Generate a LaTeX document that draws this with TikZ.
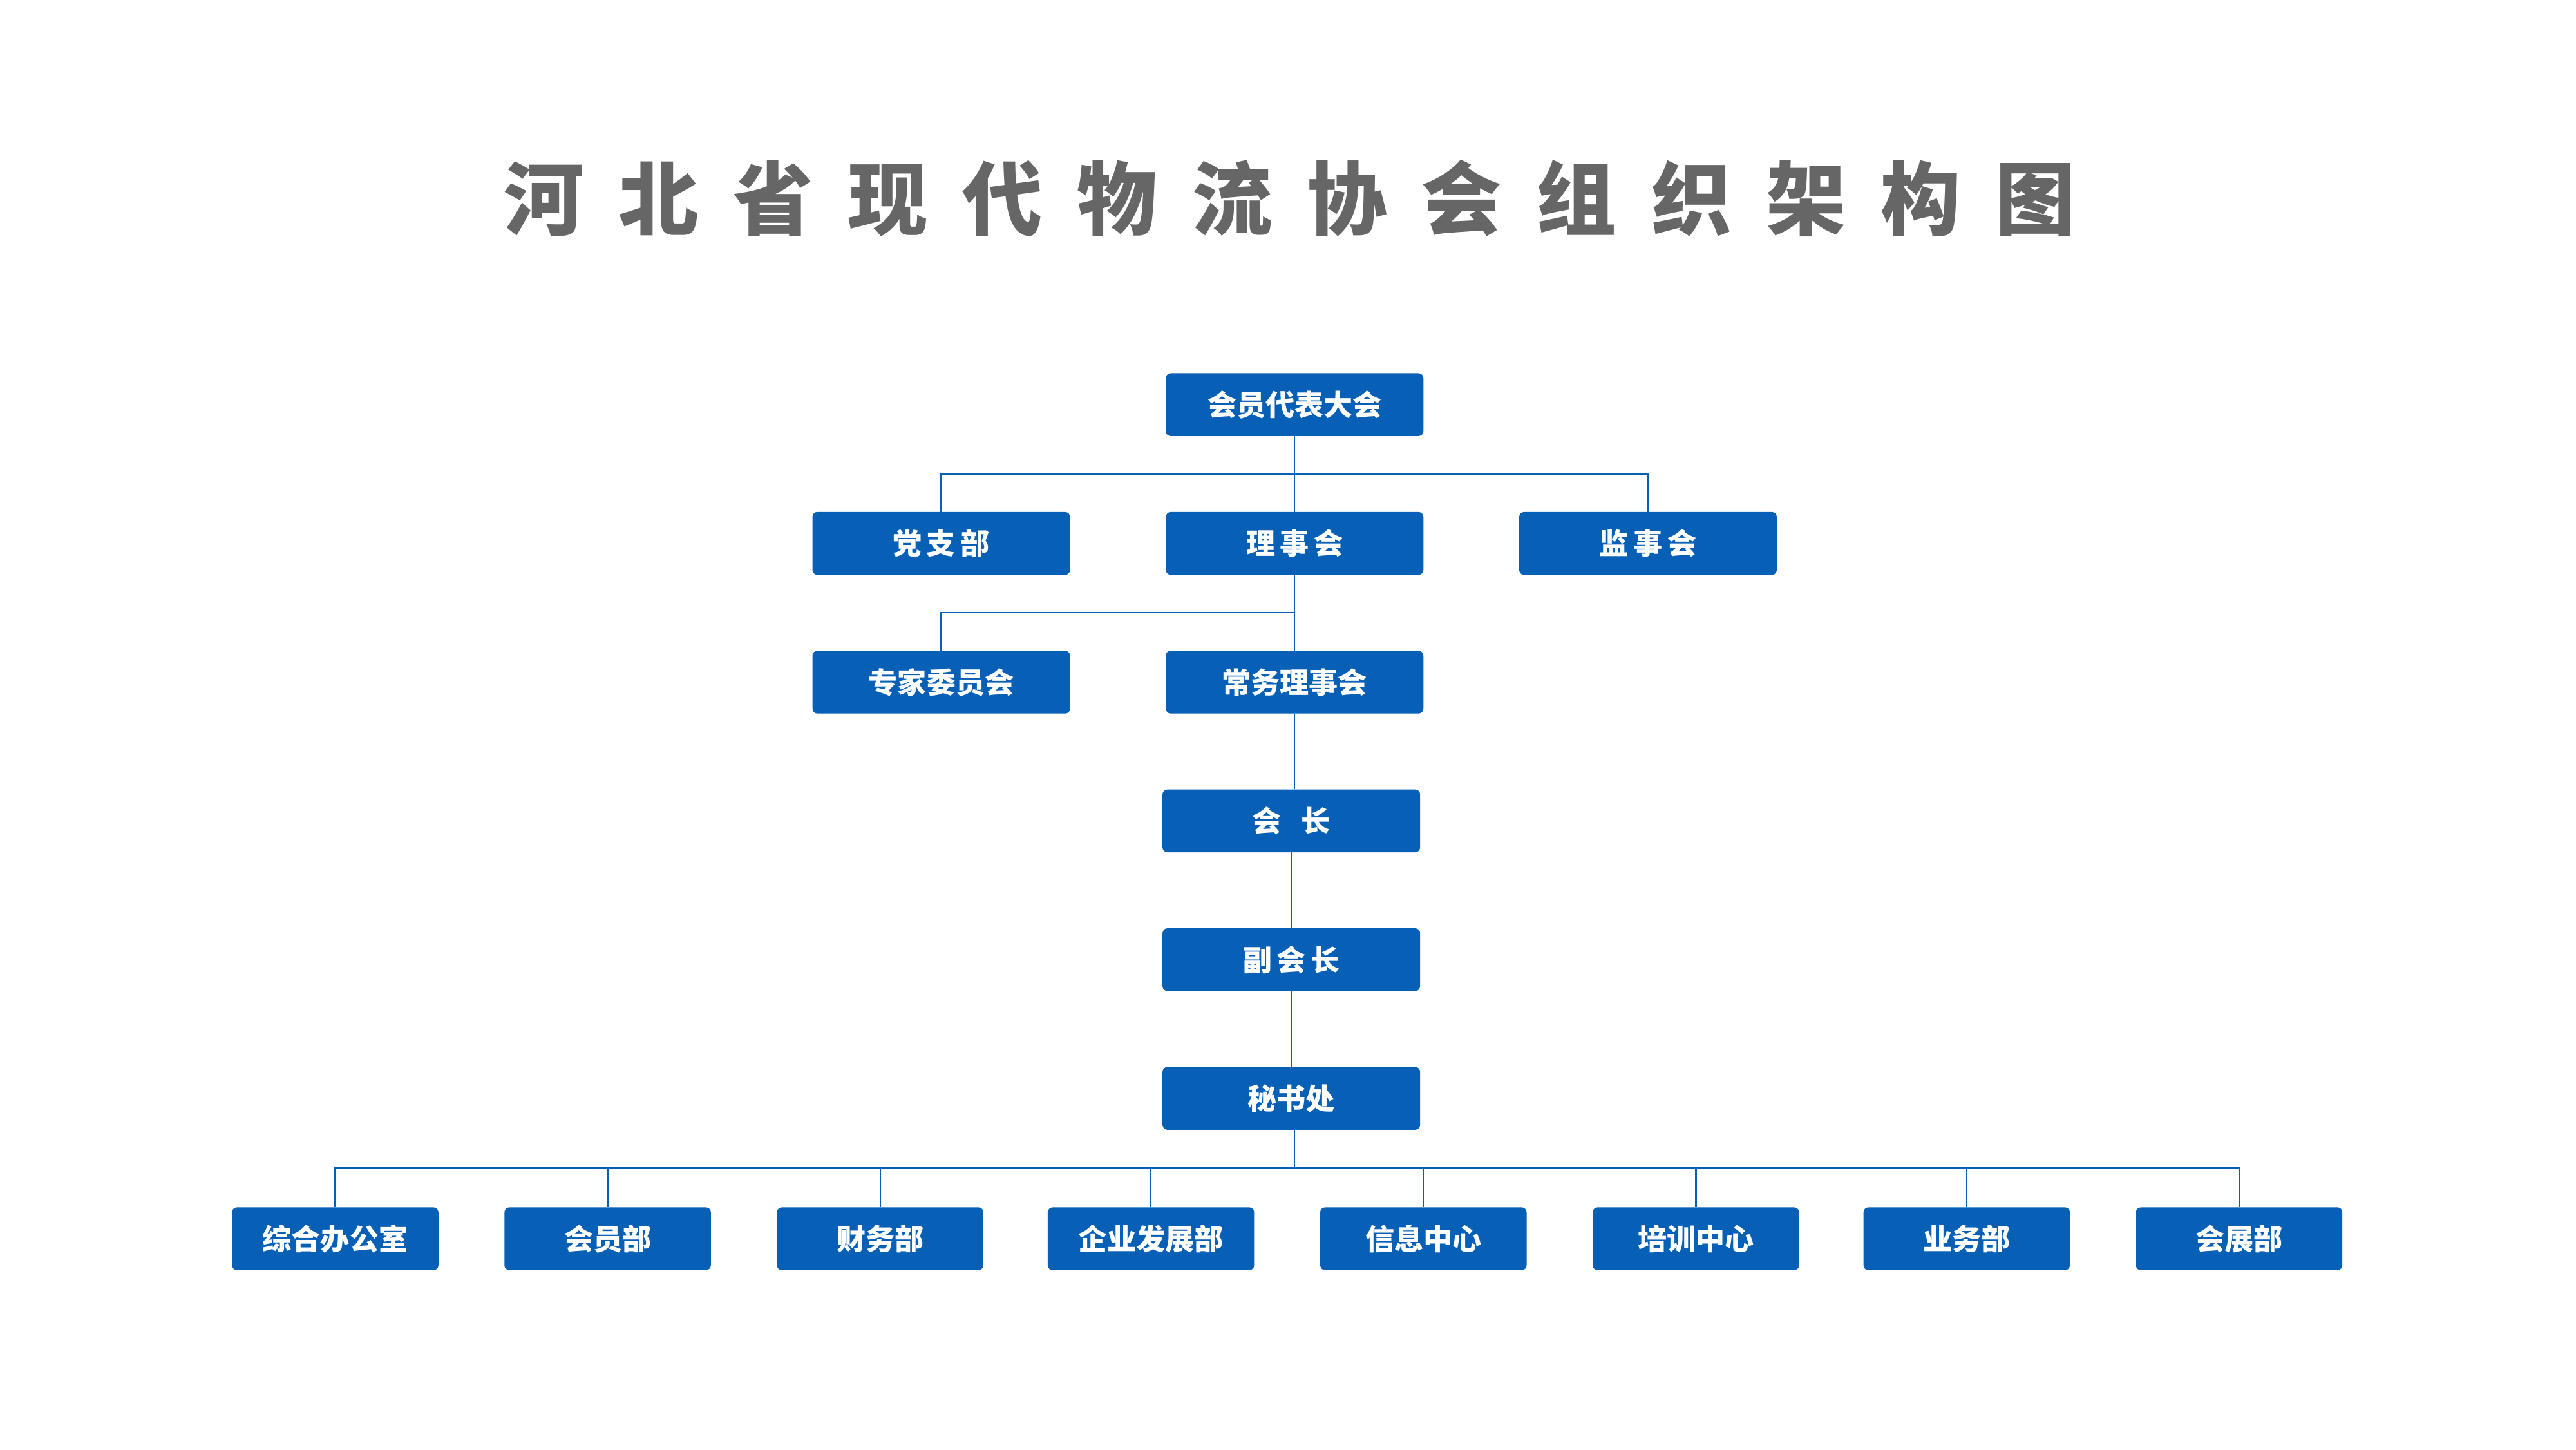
\documentclass[tikz,border=0pt]{standalone}
\usepackage{fontspec}
\newfontfamily\cjk{Noto Sans CJK SC}
\usetikzlibrary{positioning}
\definecolor{orgblue}{HTML}{0860B6}
\definecolor{titlegray}{HTML}{666666}
\newcommand{\tgap}{\hspace{21mm}}
\begin{document}
\begin{tikzpicture}[x=1mm,y=-1mm]
  \tikzset{unit/.style={fill=orgblue, rounded corners=3mm, minimum width=156mm, minimum height=38mm, inner sep=0pt, text=white, font=\cjk\bfseries\fontsize{50}{50}\selectfont},
    dept/.style={unit, minimum width=125mm},
    link/.style={draw=orgblue, line width=0.9mm}}
  \useasboundingbox (0,0) rectangle (1560,877.5);

  \node[text=titlegray, font=\cjk\bfseries\fontsize{138}{138}\selectfont] (title) at (781,120) {河\tgap 北\tgap 省\tgap 现\tgap 代\tgap 物\tgap 流\tgap 协\tgap 会\tgap 组\tgap 织\tgap 架\tgap 构\tgap 图};

  \node[unit] (dahui) at (784,245) {会员代表大会};

  \node[unit] (dangzhi) at (570,329) {党\,支\,部};
  \node[unit] (lishi) at (784,329) {理\,事\,会};
  \node[unit] (jianshi) at (998,329) {监\,事\,会};

  \node[unit] (zhuanjia) at (570,413) {专家委员会};
  \node[unit] (changwu) at (784,413) {常务理事会};

  \node[unit] (huizhang) at (782,497) {会\hspace{12mm}长};
  \node[unit] (fuhui) at (782,581) {副\,会\,长};
  \node[unit] (mishu) at (782,665) {秘书处};

  \node[dept] (zonghe) at (203,750) {综合办公室};
  \node[dept] (huiyuan) at (368,750) {会员部};
  \node[dept] (caiwu) at (533,750) {财务部};
  \node[dept] (qiye) at (697,750) {企业发展部};
  \node[dept] (xinxi) at (862,750) {信息中心};
  \node[dept] (peixun) at (1027,750) {培训中心};
  \node[dept] (yewu) at (1191,750) {业务部};
  \node[dept] (huizhan) at (1356,750) {会展部};

  \coordinate (bus1) at (784,287);
  \coordinate (bus2) at (784,371);
  \coordinate (bus3) at (784,707);

  \draw[link] (dahui) -- (lishi);
  \draw[link] (dangzhi.north) |- (bus1) -| (jianshi.north);
  \draw[link] (lishi) -- (changwu);
  \draw[link] (zhuanjia.north) |- (bus2);
  \draw[link] (changwu.south) -- (changwu.south |- huizhang.north);
  \draw[link] (huizhang.south) -- (huizhang.south |- fuhui.north);
  \draw[link] (fuhui.south) -- (fuhui.south |- mishu.north);
  \draw[link] (mishu.south -| bus3) -- (bus3);
  \draw[link] (zonghe.north) |- (bus3) -| (huizhan.north);
  \foreach \d in {huiyuan,caiwu,qiye,xinxi,peixun,yewu}
    \draw[link] (\d.north) -- (\d.north |- bus3);
\end{tikzpicture}
\end{document}
